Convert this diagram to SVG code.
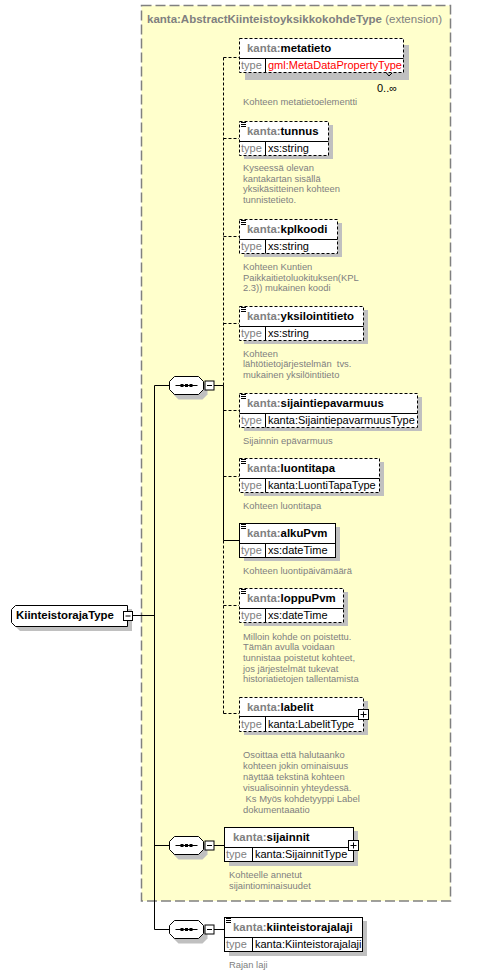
<svg xmlns="http://www.w3.org/2000/svg" width="493" height="973" viewBox="0 0 493 973">
<style>
text{font-family:"Liberation Sans",Arial,sans-serif}
.nm{font-size:11.4px;font-weight:bold;fill:#000}
.ns{fill:#808080}
.ty{font-size:11px;fill:#808080}
.tv{font-size:11px;fill:#000}
.red{fill:#ff0000}
.ds{font-size:9.4px;fill:#808080}
.bx{fill:#fff;stroke:#000;stroke-width:1}
.dash{stroke-dasharray:3,2}
.sh{fill:#c0c0c0}
.ln{stroke:#000;stroke-width:1;fill:none}
.dl{stroke:#000;stroke-width:1;fill:none;stroke-dasharray:3,2}
.ic{stroke:#000;stroke-width:1}
</style>
<defs>
<g id="doc"><path d="M2,1.5H7M2,3.5H7M2,5.5H7" class="ic"/></g>
<g id="comp">
<path d="M9,5H33L38,10V18L33,23H9L4,18V10Z" class="sh"/>
<path d="M5,0H29L34,5V13L29,18H5L0,13V5Z" fill="#fff" stroke="#000"/>
<path d="M6,9H28" class="ln"/>
<rect x="11" y="7.5" width="3" height="3" fill="#000"/>
<rect x="15.5" y="7.5" width="3" height="3" fill="#000"/>
<rect x="20" y="7.5" width="3" height="3" fill="#000"/>
<rect x="35.5" y="4.5" width="9" height="9" class="bx"/>
<path d="M37.5,9H42.5" class="ln"/>
</g>
</defs>

<g id="extension">
<rect x="141.5" y="5.5" width="309" height="895.5" fill="#ffffcc" stroke="#808080" stroke-width="1.5" stroke-dasharray="10,4"/>
<text x="147" y="23" style="font-size:11.5px;fill:#808080"><tspan font-weight="bold">kanta:AbstractKiinteistoyksikkokohdeType</tspan> (extension)</text>
</g>

<g id="connectors">
<path d="M132,615.5H154.5" class="ln"/>
<path d="M154.5,385.5V929.5" class="ln"/>
<path d="M154.5,385.5H169M154.5,845.5H169M154.5,929.5H169" class="ln"/>
<path d="M213,385.5H223.5" class="ln"/>
<path d="M223.5,57.5V385.5" class="dl"/>
<path d="M223.5,385.5V540.5H239" class="ln"/>
<path d="M223.5,540.5V713.5" class="dl"/>
<path d="M223.5,57.5H239M223.5,138.5H239M223.5,236.5H239M223.5,323.5H239M223.5,410.5H239M223.5,476.5H239M223.5,605.5H239M223.5,713.5H239" class="dl"/>
<path d="M213,845.5H224M213,929.5H224" class="ln"/>
</g>

<g id="KiinteistorajaType">
<path d="M20,609H132V631H20L16,627V613Z" class="sh"/>
<path d="M15.5,605.5H127.5V626.5H15.5L11.5,622.5V609.5Z" class="bx"/>
<text x="16" y="619" class="nm">KiinteistorajaType</text>
<rect x="123.5" y="611.5" width="9" height="9" class="bx"/>
<path d="M125.5,616H130.5" class="ln"/>
</g>

<g id="seq1"><use href="#comp" x="169.5" y="376.5"/></g>
<g id="seq2"><use href="#comp" x="169.5" y="836.5"/></g>
<g id="seq3"><use href="#comp" x="169.5" y="920.5"/></g>

<g id="metatieto">
<rect x="245" y="45" width="164" height="35" class="sh"/>
<rect x="239.5" y="38.5" width="164" height="34" class="bx dash"/>
<path d="M239.5,58.5H403.5M265.5,58.5V72.5" class="ln"/>
<text x="247" y="52" class="nm"><tspan class="ns">kanta:</tspan>metatieto</text>
<text x="241" y="69" class="ty">type</text>
<text x="268" y="69" class="tv red">gml:MetaDataPropertyType</text>
<path d="M386,72.5L389,76L392,73" class="ln"/>
<text x="377" y="92" class="tv">0..∞</text>
<text x="243" y="105" class="ds">Kohteen metatietoelementti</text>
</g>

<g id="tunnus">
<rect x="244" y="125" width="89" height="34" class="sh"/>
<rect x="239.5" y="121.5" width="89" height="34" class="bx dash"/>
<path d="M239.5,141.5H328.5M265.5,141.5V155.5" class="ln"/>
<use href="#doc" x="239" y="121"/>
<text x="247" y="135" class="nm"><tspan class="ns">kanta:</tspan>tunnus</text>
<text x="241" y="152" class="ty">type</text>
<text x="268" y="152" class="tv">xs:string</text>
<text class="ds"><tspan x="243" y="171">Kyseessä olevan</tspan><tspan x="243" y="181.7">kantakartan sisällä</tspan><tspan x="243" y="192.4">yksikäsitteinen kohteen</tspan><tspan x="243" y="203.1">tunnistetieto.</tspan></text>
</g>

<g id="kplkoodi">
<rect x="244" y="223" width="98" height="34" class="sh"/>
<rect x="239.5" y="219.5" width="98" height="34" class="bx dash"/>
<path d="M239.5,239.5H337.5M265.5,239.5V253.5" class="ln"/>
<use href="#doc" x="239" y="219"/>
<text x="247" y="233" class="nm"><tspan class="ns">kanta:</tspan>kplkoodi</text>
<text x="241" y="250" class="ty">type</text>
<text x="268" y="250" class="tv">xs:string</text>
<text class="ds"><tspan x="243" y="270">Kohteen Kuntien</tspan><tspan x="243" y="280.7">Paikkaitietoluokituksen(KPL</tspan><tspan x="243" y="291.4">2.3)) mukainen koodi</tspan></text>
</g>

<g id="yksilointitieto">
<rect x="244" y="310" width="124" height="34" class="sh"/>
<rect x="239.5" y="306.5" width="124" height="34" class="bx dash"/>
<path d="M239.5,326.5H363.5M265.5,326.5V340.5" class="ln"/>
<use href="#doc" x="239" y="306"/>
<text x="247" y="320" class="nm"><tspan class="ns">kanta:</tspan>yksilointitieto</text>
<text x="241" y="337" class="ty">type</text>
<text x="268" y="337" class="tv">xs:string</text>
<text class="ds"><tspan x="243" y="356.5">Kohteen</tspan><tspan x="243" y="367.2">lähtötietojärjestelmän&#160; tvs.</tspan><tspan x="243" y="377.9">mukainen yksilöintitieto</tspan></text>
</g>

<g id="sijaintiepavarmuus">
<rect x="244" y="397" width="178" height="34" class="sh"/>
<rect x="239.5" y="393.5" width="178" height="34" class="bx dash"/>
<path d="M239.5,413.5H417.5M265.5,413.5V427.5" class="ln"/>
<use href="#doc" x="239" y="393"/>
<text x="247" y="407" class="nm"><tspan class="ns">kanta:</tspan>sijaintiepavarmuus</text>
<text x="241" y="424" class="ty">type</text>
<text x="268" y="424" class="tv">kanta:SijaintiepavarmuusType</text>
<text x="243" y="443.5" class="ds">Sijainnin epävarmuus</text>
</g>

<g id="luontitapa">
<rect x="244" y="462" width="140" height="34" class="sh"/>
<rect x="239.5" y="458.5" width="140" height="34" class="bx dash"/>
<path d="M239.5,478.5H379.5M265.5,478.5V492.5" class="ln"/>
<use href="#doc" x="239" y="458"/>
<text x="247" y="472" class="nm"><tspan class="ns">kanta:</tspan>luontitapa</text>
<text x="241" y="489" class="ty">type</text>
<text x="268" y="489" class="tv">kanta:LuontiTapaType</text>
<text x="243" y="508.5" class="ds">Kohteen luontitapa</text>
</g>

<g id="alkuPvm">
<rect x="244" y="527" width="96" height="34" class="sh"/>
<rect x="239.5" y="523.5" width="96" height="34" class="bx"/>
<path d="M239.5,543.5H335.5M265.5,543.5V557.5" class="ln"/>
<use href="#doc" x="239" y="523"/>
<text x="247" y="537" class="nm"><tspan class="ns">kanta:</tspan>alkuPvm</text>
<text x="241" y="554" class="ty">type</text>
<text x="268" y="554" class="tv">xs:dateTime</text>
<text x="243" y="573.5" class="ds">Kohteen luontipäivämäärä</text>
</g>

<g id="loppuPvm">
<rect x="244" y="592" width="104" height="34" class="sh"/>
<rect x="239.5" y="588.5" width="104" height="34" class="bx dash"/>
<path d="M239.5,608.5H343.5M265.5,608.5V622.5" class="ln"/>
<use href="#doc" x="239" y="588"/>
<text x="247" y="602" class="nm"><tspan class="ns">kanta:</tspan>loppuPvm</text>
<text x="241" y="619" class="ty">type</text>
<text x="268" y="619" class="tv">xs:dateTime</text>
<text class="ds"><tspan x="243" y="639.5">Milloin kohde on poistettu.</tspan><tspan x="243" y="650.2">Tämän avulla voidaan</tspan><tspan x="243" y="660.9">tunnistaa poistetut kohteet,</tspan><tspan x="243" y="671.6">jos järjestelmät tukevat</tspan><tspan x="243" y="682.3">historiatietojen tallentamista</tspan></text>
</g>

<g id="labelit">
<rect x="244" y="701" width="124" height="34" class="sh"/>
<rect x="239.5" y="697.5" width="124" height="34" class="bx dash"/>
<path d="M239.5,716.5H363.5M265.5,716.5V731.5" class="ln"/>
<text x="247" y="711" class="nm"><tspan class="ns">kanta:</tspan>labelit</text>
<text x="241" y="728" class="ty">type</text>
<text x="268" y="728" class="tv">kanta:LabelitType</text>
<rect x="358.5" y="709.5" width="10" height="10" class="bx"/>
<path d="M360.5,714.5H366.5M363.5,711.5V717.5" class="ln"/>
<text class="ds"><tspan x="243" y="757.5">Osoittaa että halutaanko</tspan><tspan x="243" y="768.5">kohteen jokin ominaisuus</tspan><tspan x="243" y="779.5">näyttää tekstinä kohteen</tspan><tspan x="243" y="790.5">visualisoinnin yhteydessä.</tspan><tspan x="243" y="801.5">&#160;Ks Myös kohdetyyppi Label</tspan><tspan x="243" y="812.5">dokumentaaatio</tspan></text>
</g>

<g id="sijainnit">
<rect x="229" y="831" width="129" height="35" class="sh"/>
<rect x="224.5" y="827.5" width="129" height="34" class="bx"/>
<path d="M224.5,847.5H353.5M252.5,847.5V861.5" class="ln"/>
<text x="233" y="841" class="nm"><tspan class="ns">kanta:</tspan>sijainnit</text>
<text x="226" y="858" class="ty">type</text>
<text x="255" y="858" class="tv">kanta:SijainnitType</text>
<rect x="348.5" y="840.5" width="10" height="10" class="bx"/>
<path d="M350.5,845.5H356.5M353.5,842.5V848.5" class="ln"/>
<text class="ds"><tspan x="229" y="877.5">Kohteelle annetut</tspan><tspan x="229" y="888.5">sijaintiominaisuudet</tspan></text>
</g>

<g id="kiinteistorajalaji">
<rect x="229" y="921" width="138" height="35" class="sh"/>
<rect x="224.5" y="917.5" width="138" height="34" class="bx"/>
<path d="M224.5,937.5H362.5M252.5,937.5V951.5" class="ln"/>
<use href="#doc" x="224" y="917"/>
<text x="233" y="931" class="nm"><tspan class="ns">kanta:</tspan>kiinteistorajalaji</text>
<text x="226" y="948" class="ty">type</text>
<text x="255" y="948" class="tv">kanta:Kiinteistorajalaji</text>
<text x="229" y="967.5" class="ds">Rajan laji</text>
</g>
</svg>
